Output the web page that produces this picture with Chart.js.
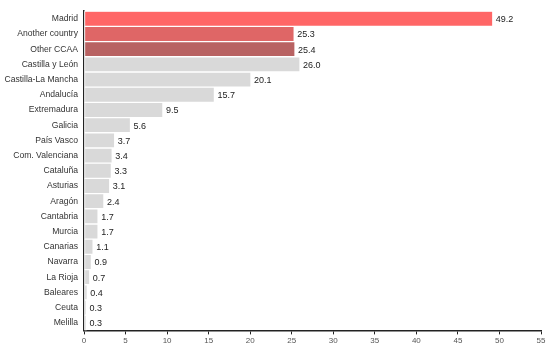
<!DOCTYPE html>
<html>
<head>
<meta charset="utf-8">
<script src="https://cdn.jsdelivr.net/npm/chart.js@4"></script>
<style>
  html, body { margin: 0; padding: 0; background: #fff; }
  #wrap { width: 550px; height: 349px; }
</style>
</head>
<body>
<div id="wrap"><canvas id="barChart" width="550" height="349"></canvas></div>
<script>
// Chart data
var regions = ['Madrid', 'Another country', 'Other CCAA', 'Castilla y León', 'Castilla-La Mancha',
    'Andalucía', 'Extremadura', 'Galicia', 'País Vasco', 'Com. Valenciana', 'Cataluña', 'Asturias',
    'Aragón', 'Cantabria', 'Murcia', 'Canarias', 'Navarra', 'La Rioja', 'Baleares', 'Ceuta', 'Melilla'];
var values = [49.2, 25.3, 25.4, 26.0, 20.1, 15.7, 9.5, 5.6, 3.7, 3.4, 3.3, 3.1, 2.4, 1.7, 1.7, 1.1, 0.9, 0.7, 0.4, 0.3, 0.3];
var xTicks = [0, 5, 10, 15, 20, 25, 30, 35, 40, 45, 50, 55];

var barColors = regions.map(function (r, i) {
    if (i === 0) return '#ff6666';
    if (i === 1) return '#df6666';
    if (i === 2) return '#b86262';
    return '#d9d9d9';
});

// draws the value next to the end of each bar
var valueLabels = {
    id: 'valueLabels',
    afterDatasetsDraw: function (chart) {
        var ctx = chart.ctx;
        var meta = chart.getDatasetMeta(0);
        ctx.save();
        ctx.font = '9px "Liberation Sans", Arial, sans-serif';
        ctx.fillStyle = '#222';
        ctx.textAlign = 'left';
        ctx.textBaseline = 'middle';
        meta.data.forEach(function (bar, i) {
            ctx.fillText(values[i].toFixed(1), bar.x + 3, bar.y + 1);
        });
        ctx.restore();
    }
};

var ctx = document.getElementById('barChart').getContext('2d');
var chart = new Chart(ctx, {
    type: 'bar',
    data: {
        labels: regions,
        datasets: [{
            data: values,
            backgroundColor: barColors,
            borderColor: '#ffffff',
            borderWidth: 1,
            borderSkipped: false,
            barPercentage: 1,
            categoryPercentage: 1
        }]
    },
    options: {
        indexAxis: 'y',
        responsive: false,
        animation: false,
        layout: { padding: { top: 5, right: 9, left: 0, bottom: 1 } },
        plugins: {
            legend: { display: false },
            tooltip: { enabled: false }
        },
        scales: {
            x: {
                min: 0,
                max: 55,
                afterBuildTicks: function (axis) {
                    axis.ticks = xTicks.map(function (v) { return { value: v }; });
                },
                grid: {
                    display: true,
                    drawOnChartArea: false,
                    drawTicks: true,
                    tickLength: 4,
                    color: '#222'
                },
                border: { display: true, color: '#222', width: 1.5 },
                ticks: {
                    color: '#555',
                    font: { size: 8, family: '"Liberation Sans", Arial, sans-serif' },
                    padding: 2,
                    maxRotation: 0
                }
            },
            y: {
                grid: { display: false, drawTicks: false },
                border: { display: true, color: '#222', width: 1.5 },
                afterFit: function (axis) { axis.width = 84; },
                ticks: {
                    color: '#333',
                    font: { size: 8.6, family: '"Liberation Sans", Arial, sans-serif' },
                    padding: 6,
                    autoSkip: false
                }
            }
        }
    },
    plugins: [valueLabels]
});
</script>
</body>
</html>
